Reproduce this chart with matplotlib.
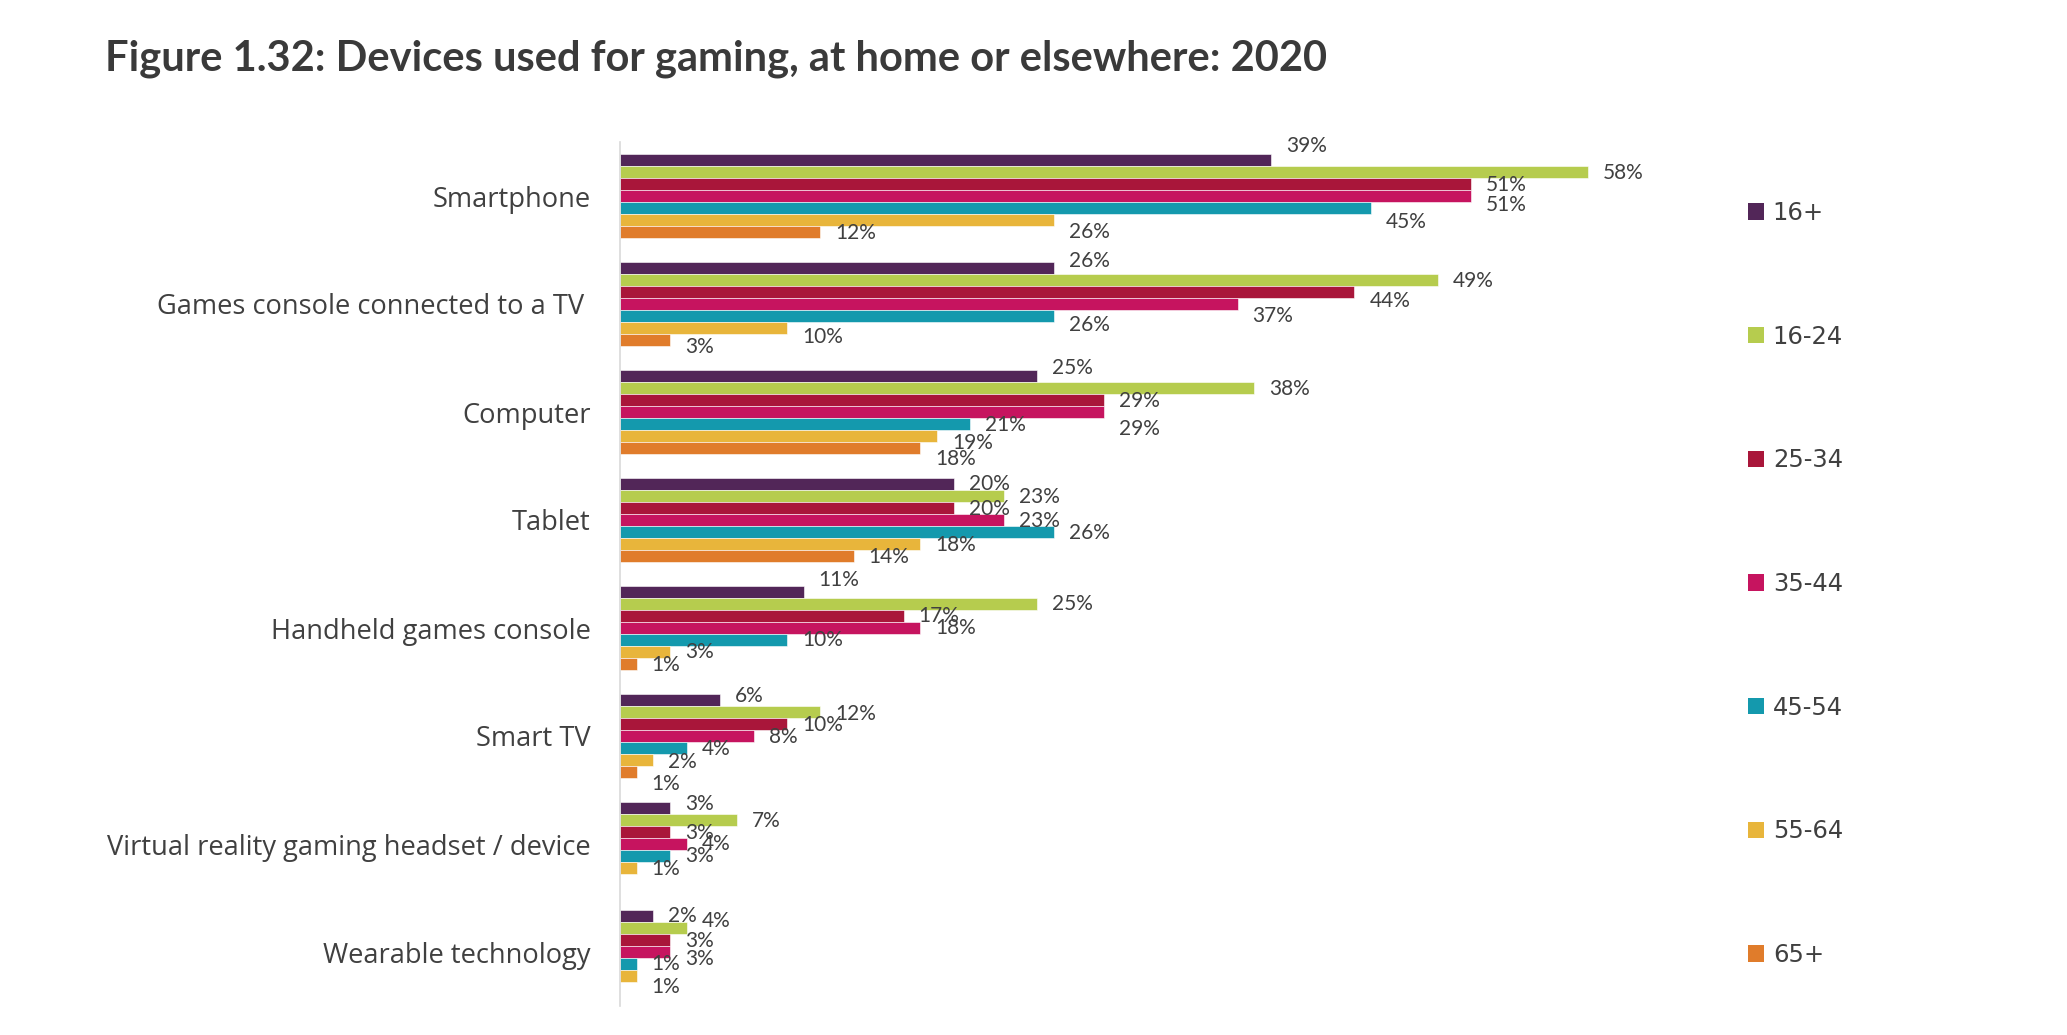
import matplotlib
matplotlib.use("Agg")
import matplotlib.pyplot as plt
from matplotlib.patches import Patch

# ---------------- data ----------------
categories = [
    "Smartphone",
    "Games console connected to a TV ",
    "Computer",
    "Tablet",
    "Handheld games console",
    "Smart TV",
    "Virtual reality gaming headset / device",
    "Wearable technology",
]
series_names = ["16+", "16-24", "25-34", "35-44", "45-54", "55-64", "65+"]
v_16plus = [39, 26, 25, 20, 11, 6, 3, 2]
v_16_24 = [58, 49, 38, 23, 25, 12, 7, 4]
v_25_34 = [51, 44, 29, 20, 17, 10, 3, 3]
v_35_44 = [51, 37, 29, 23, 18, 8, 4, 3]
v_45_54 = [45, 26, 21, 26, 10, 4, 3, 1]
v_55_64 = [26, 10, 19, 18, 3, 2, 1, 1]
v_65plus = [12, 3, 18, 14, 1, 1, 0, 0]
series_values = [v_16plus, v_16_24, v_25_34, v_35_44, v_45_54, v_55_64, v_65plus]

# ---------------- style ----------------
colors = ["#522658", "#b6cc4e", "#a9163a", "#c6145f", "#1499ad", "#e8b53b", "#e07c2b"]
text_col = "#404040"
# vertical nudges of value labels (pixels, positive = down), per category x series
label_dy = [
    [-14, 1, 1, 9, 14, 12, 1],
    [-7, 1, 9, 12, 9, 9, 7],
    [-8, 1, 1, 17, 1, 7, 11],
    [0, 1, 1, 1, 1, 1, 1],
    [-12, 0, 0, 0, 0, 0, 1],
    [-4, 2, 1, 1, 1, 2, 12],
    [-4, 1, 1, 0, 0, 1, 0],
    [0, -7, 1, 7, 0, 11, 0],
]

W, H = 2067, 1035
fig = plt.figure(figsize=(W / 100, H / 100), dpi=100)
ax = fig.add_axes([620 / W, 1 - 1006 / H, 1080 / W, 864 / H])

bar_h = 0.11
for j, (name, vals) in enumerate(zip(series_names, series_values)):
    ys = [i - 0.33 + j * bar_h for i in range(len(categories))]
    ax.barh(ys, vals, height=bar_h, color=colors[j], edgecolor="white",
            linewidth=0.4, label=name)
    for i, (y, v) in enumerate(zip(ys, vals)):
        if v <= 0:
            continue
        ax.annotate(f"{v}%", xy=(v, y), xytext=(15 * 0.72, -label_dy[i][j] * 0.72),
                    textcoords="offset points", ha="left", va="center",
                    fontsize=15, family="Lato", color=text_col)

ax.set_ylim(len(categories) - 0.5, -0.5)
ax.set_xlim(0, 1080 / 16.69)
ax.set_yticks(range(len(categories)))
ax.set_yticklabels(categories, fontsize=19.6, family="Open Sans", color=text_col)
ax.tick_params(axis="y", length=0, pad=21)
ax.set_xticks([])
for s in ["top", "right", "bottom"]:
    ax.spines[s].set_visible(False)
ax.spines["left"].set_color("#d9d9d9")
ax.spines["left"].set_linewidth(1.2)

handles = [Patch(facecolor=c, edgecolor="none") for c in colors]
leg = fig.legend(handles, series_names, loc="upper left",
                 bbox_to_anchor=(1748 / W, 1 - 201 / H), frameon=False,
                 prop={"family": "DejaVu Sans", "size": 17.5},
                 handlelength=0.66, handleheight=0.66, handletextpad=0.36,
                 labelspacing=4.1, borderpad=0, borderaxespad=0)
for t in leg.get_texts():
    t.set_color(text_col)

fig.text(105 / W, 1 - 59 / H, "Figure 1.32: Devices used for gaming, at home or elsewhere: 2020",
         fontsize=30, fontweight="bold", family="Lato", color="#3a3a3a",
         ha="left", va="center")

fig.savefig("out.png", dpi=100, facecolor="white")
